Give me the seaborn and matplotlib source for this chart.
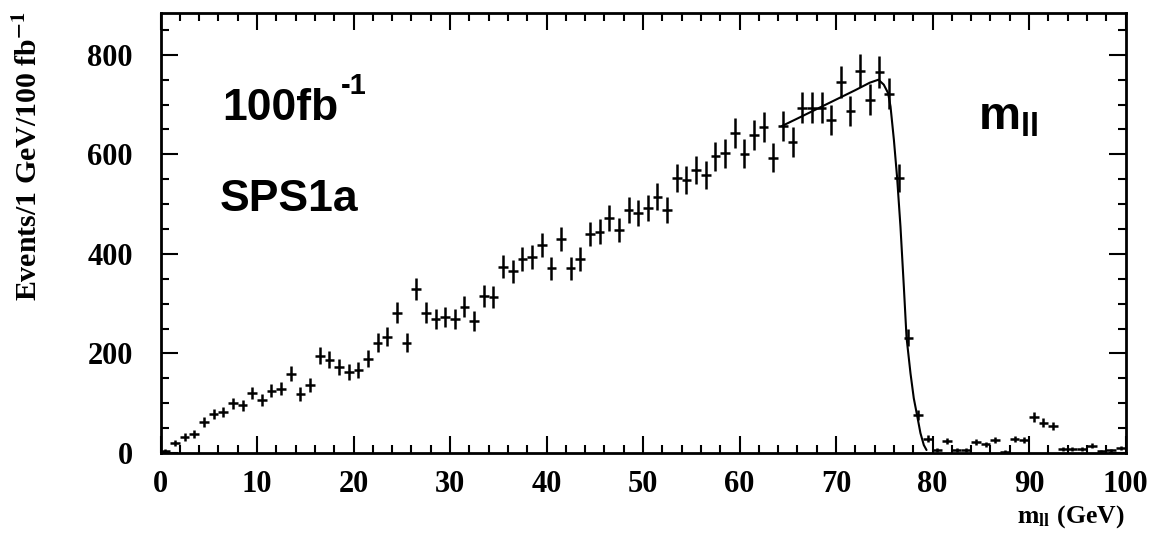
import numpy as np
import pandas as pd
import matplotlib
matplotlib.use("Agg")
import matplotlib.pyplot as plt
import seaborn as sns
from matplotlib.ticker import MultipleLocator

# Dilepton invariant mass spectrum, 1 GeV bins from 0 to 100 GeV
bin_lo = np.arange(0, 100)
events = [5, 20, 33, 38, 62, 78, 83, 100, 96, 121,
          107, 125, 129, 159, 118, 137, 195, 187, 172, 162,
          167, 189, 222, 234, 282, 222, 329, 282, 269, 274,
          269, 294, 266, 316, 314, 374, 365, 390, 394, 418,
          371, 430, 371, 390, 440, 445, 473, 448, 488, 482,
          492, 515, 488, 552, 549, 569, 559, 596, 602, 643,
          601, 639, 655, 593, 657, 624, 694, 694, 694, 669,
          746, 687, 768, 710, 765, 722, 553, 232, 76, 29,
          7, 25, 6, 7, 23, 18, 26, 3, 28, 26,
          73, 61, 54, 9, 8, 9, 15, 4, 6, 10]
errors = [4, 6, 8, 8, 10, 10, 10, 11, 11, 12,
          12, 13, 13, 15, 14, 14, 17, 17, 16, 16,
          16, 17, 19, 19, 21, 19, 22, 21, 20, 20,
          20, 21, 20, 22, 22, 23, 23, 24, 24, 25,
          23, 25, 23, 24, 25, 25, 26, 25, 26, 26,
          26, 27, 26, 28, 28, 28, 28, 29, 29, 30,
          29, 30, 30, 29, 30, 30, 31, 31, 31, 31,
          32, 31, 33, 31, 32, 31, 28, 18, 10, 7,
          4, 6, 4, 4, 6, 5, 6, 3, 6, 6,
          10, 9, 8, 4, 4, 4, 5, 3, 3, 4]

# Edge fit curve
fit_mass = [64.4, 66.0, 68.0, 70.0, 72.0, 73.5, 74.4, 74.95, 75.4, 75.65,
            76.0, 76.33, 76.68, 77.03, 77.31, 77.72, 78.06, 78.4, 78.75,
            79.1, 79.38]
fit_events = [657, 672, 691, 710, 729, 744, 750, 740, 723, 696,
              629, 554, 455, 334, 232, 160, 110, 76, 40, 16, 6]

x_ticks = [0, 10, 20, 30, 40, 50, 60, 70, 80, 90, 100]
y_ticks = [0, 200, 400, 600, 800]

sns.set_theme(style="ticks")
plt.rcParams["font.family"] = ["Liberation Serif", "DejaVu Serif"]
plt.rcParams["text.color"] = "black"
plt.rcParams["mathtext.fontset"] = "custom"
plt.rcParams["mathtext.rm"] = "Liberation Sans"
plt.rcParams["mathtext.bf"] = "Liberation Sans:bold"

W, H = 1154, 533
fig = plt.figure(figsize=(W / 100, H / 100), dpi=100)
ax = fig.add_axes([160.5 / W, 1 - 453 / H, (1125.5 - 160.5) / W, (453 - 13) / H])

data = pd.DataFrame({"mass": bin_lo + 0.5, "events": events, "err": errors})
fit = pd.DataFrame({"mass": fit_mass, "events": fit_events})

ax.errorbar(data["mass"], data["events"], xerr=0.5, yerr=data["err"],
            fmt="none", ecolor="black", elinewidth=1.8, capsize=0, zorder=3)
sns.lineplot(data=fit, x="mass", y="events", color="black", linewidth=1.5,
             ax=ax, zorder=4)

ax.set_xlim(0, 100)
ax.set_ylim(0, 884)
ax.set_xticks(x_ticks)
ax.set_yticks(y_ticks)
ax.xaxis.set_minor_locator(MultipleLocator(2))
ax.yaxis.set_minor_locator(MultipleLocator(50))
ax.tick_params(which="both", direction="in", top=True, right=True,
               color="black", width=1.5)
ax.tick_params(which="major", length=12)
ax.tick_params(which="minor", length=6)
ax.tick_params(axis="x", which="major", labelsize=22, pad=12)
ax.tick_params(axis="y", which="major", labelsize=22, pad=20)
for lab in ax.get_xticklabels() + ax.get_yticklabels():
    lab.set_fontweight("bold")
    lab.set_color("black")
for sp in ax.spines.values():
    sp.set_linewidth(2)
    sp.set_color("black")
ax.set_xlabel("")
ax.set_ylabel("")

fig.text(29 / W, 1 - 11 / H, r"Events/1 GeV/100 fb$^{\mathbf{-1}}$",
         rotation=90, ha="center", va="top", fontsize=21.5,
         fontweight="bold", color="black", math_fontfamily="stix")
fig.text(1125 / W, 3 / H, r"$\mathbf{m}_{\mathbf{ll}}$ (GeV)",
         ha="right", va="bottom", fontsize=18.5, fontweight="bold",
         color="black", math_fontfamily="stix")

ax.text(6.37, 669, "100fb", family="Liberation Sans",
        fontweight="bold", fontsize=32, va="baseline", ha="left",
        color="black")
ax.text(18.7, 722, "-1", family="Liberation Sans",
        fontweight="bold", fontsize=21, va="baseline", ha="left",
        color="black")
ax.text(6.17, 487, "SPS1a", family="Liberation Sans", fontweight="bold",
        fontsize=32, va="baseline", ha="left", color="black")
ax.text(84.7, 649, r"$\mathbf{m}_{\mathbf{ll}}$", fontsize=34,
        va="baseline", ha="left", color="black", math_fontfamily="custom")

fig.savefig("out.png", dpi=100)
